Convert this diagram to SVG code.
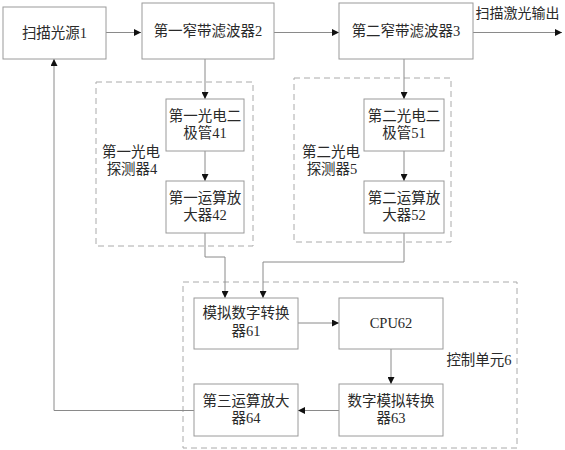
<svg xmlns="http://www.w3.org/2000/svg" width="565" height="450" viewBox="0 0 565 450">
<defs>
<style>
.box{fill:#fff;stroke:#9a9a9a;stroke-width:1}
.dash{fill:none;stroke:#aaa;stroke-width:1;stroke-dasharray:6,4}
.ln{fill:none;stroke:#8a8a8a;stroke-width:1}
text{font-family:"Liberation Serif","Noto Sans CJK SC",serif;font-size:14.5px;fill:#2a2a2a;text-anchor:middle}
</style>
<marker id="ah" viewBox="0 0 10 10" refX="10" refY="5" markerWidth="7" markerHeight="7" markerUnits="userSpaceOnUse" orient="auto">
<path d="M0,0 L10,5 L0,10 Z" fill="#111"/>
</marker>
</defs>
<rect width="565" height="450" fill="#fff"/>
<g id="group-detector1"><rect class="dash" x="96" y="82" width="157" height="164"/><text x="131" y="157">第一光电</text><text x="132" y="174">探测器4</text></g>
<g id="group-detector2"><rect class="dash" x="294" y="78" width="157" height="164"/><text x="331" y="157">第二光电</text><text x="332" y="174">探测器5</text></g>
<g id="group-control"><rect class="dash" x="183" y="282" width="334" height="166"/><text x="479" y="365">控制单元6</text></g>
<g id="connectors">
<line class="ln" x1="106" y1="32.5" x2="141" y2="32.5" marker-end="url(#ah)"/>
<line class="ln" x1="274" y1="32.5" x2="339" y2="32.5" marker-end="url(#ah)"/>
<line class="ln" x1="473" y1="32.5" x2="562" y2="32.5" marker-end="url(#ah)"/>
<line class="ln" x1="205" y1="59" x2="205" y2="99" marker-end="url(#ah)"/>
<line class="ln" x1="205" y1="151" x2="205" y2="181" marker-end="url(#ah)"/>
<line class="ln" x1="404" y1="59" x2="404" y2="99" marker-end="url(#ah)"/>
<line class="ln" x1="404" y1="151" x2="404" y2="181" marker-end="url(#ah)"/>
<polyline class="ln" points="205,233 205,257 225,257 225,298" marker-end="url(#ah)"/>
<polyline class="ln" points="404,233 404,262 263,262 263,298" marker-end="url(#ah)"/>
<line class="ln" x1="298" y1="323" x2="339" y2="323" marker-end="url(#ah)"/>
<line class="ln" x1="391" y1="349" x2="391" y2="384" marker-end="url(#ah)"/>
<line class="ln" x1="339" y1="410.5" x2="298" y2="410.5" marker-end="url(#ah)"/>
<polyline class="ln" points="194,410.5 54,410.5 54,59" marker-end="url(#ah)"/>
</g>
<g id="node-source"><rect class="box" x="3" y="7" width="103" height="52"/><text x="54.5" y="38">扫描光源1</text></g>
<g id="node-filter1"><rect class="box" x="142" y="3" width="132" height="56"/><text x="208" y="36">第一窄带滤波器2</text></g>
<g id="node-filter2"><rect class="box" x="339" y="3" width="134" height="56"/><text x="406" y="36">第二窄带滤波器3</text></g>
<g id="label-output"><text x="517.5" y="18" style="font-size:14px">扫描激光输出</text></g>
<g id="node-41"><rect class="box" x="166" y="99" width="78" height="52"/><text x="205" y="121">第一光电二</text><text x="205" y="138">极管41</text></g>
<g id="node-42"><rect class="box" x="166" y="181" width="78" height="52"/><text x="205" y="203">第一运算放</text><text x="205" y="220">大器42</text></g>
<g id="node-51"><rect class="box" x="364" y="99" width="80" height="52"/><text x="404" y="121">第二光电二</text><text x="404" y="138">极管51</text></g>
<g id="node-52"><rect class="box" x="364" y="181" width="80" height="52"/><text x="404" y="203">第二运算放</text><text x="404" y="220">大器52</text></g>
<g id="node-61"><rect class="box" x="194" y="298" width="104" height="51"/><text x="246" y="318">模拟数字转换</text><text x="246" y="336">器61</text></g>
<g id="node-62"><rect class="box" x="339" y="298" width="104" height="51"/><text x="391" y="328">CPU62</text></g>
<g id="node-63"><rect class="box" x="339" y="384" width="104" height="52"/><text x="391" y="406">数字模拟转换</text><text x="391" y="423">器63</text></g>
<g id="node-64"><rect class="box" x="194" y="384" width="104" height="52"/><text x="246" y="406">第三运算放大</text><text x="246" y="423">器64</text></g>
</svg>
